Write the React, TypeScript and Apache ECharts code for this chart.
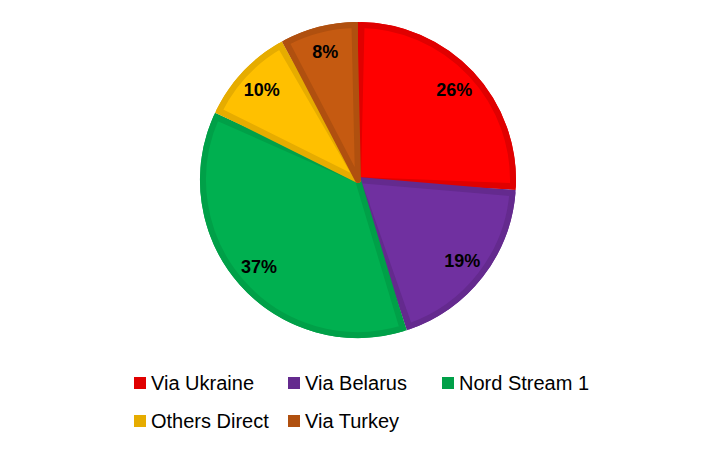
import React, { useEffect, useRef } from "react";
import * as echarts from "echarts";

const categories = ["Via Ukraine", "Via Belarus", "Nord Stream 1", "Others Direct", "Via Turkey"];
const values = [26, 19, 37, 10, 8];
const fillColors = ["#FF0000", "#7030A0", "#00B050", "#FFC000", "#C55A11"];
const borderColors = ["#E00000", "#642A8E", "#00A048", "#E6AC00", "#B0500F"];
const legendRow1 = ["Via Ukraine", "Via Belarus", "Nord Stream 1"];
const legendRow2 = ["Others Direct", "Via Turkey"];

export default function App() {
  const ref = useRef<HTMLDivElement>(null);
  useEffect(() => {
    if (!ref.current) return;
    const chart = echarts.init(ref.current, undefined, { renderer: "svg" });
    const colorOf = (n: string) => borderColors[categories.indexOf(n)];
    const mkLegend = (names: string[], top: number) => ({
      left: 134,
      top,
      orient: "horizontal",
      padding: 0,
      itemWidth: 12,
      itemHeight: 12,
      itemGap: 0,
      icon: "rect",
      data: names.map((n) => ({ name: n, itemStyle: { color: colorOf(n) } })),
      textStyle: {
        fontFamily: "Liberation Sans",
        fontSize: 20,
        color: "#000",
        width: 137,
        lineHeight: 20,
      },
    });
    const dark = categories.map((n, i) => ({ name: n, value: values[i], itemStyle: { color: borderColors[i] } }));
    const light = categories.map((n, i) => ({
      name: n,
      value: values[i],
      itemStyle: { color: fillColors[i], borderColor: borderColors[i], borderWidth: 6 },
    }));
    const labelData = categories.map((n, i) => ({ name: n, value: values[i] }));
    chart.setOption({
      animation: false,
      backgroundColor: "#fff",
      legend: [mkLegend(legendRow1, 373), mkLegend(legendRow2, 411)],
      series: [
        {
          type: "pie",
          center: [358, 180],
          radius: [0, 158],
          startAngle: 90,
          clockwise: true,
          silent: true,
          label: { show: false },
          labelLine: { show: false },
          data: dark,
        },
        {
          type: "pie",
          center: [358, 180],
          radius: [0, 155],
          startAngle: 90,
          clockwise: true,
          padAngle: 2.6,
          label: { show: false },
          labelLine: { show: false },
          emphasis: { disabled: true },
          data: light,
        },
        {
          type: "pie",
          center: [358, 180],
          radius: [100, 158],
          startAngle: 90,
          clockwise: true,
          silent: true,
          itemStyle: { color: "rgba(0,0,0,0)" },
          label: {
            show: true,
            position: "inside",
            formatter: "{c}%",
            fontFamily: "Liberation Sans",
            fontWeight: "bold",
            fontSize: 18,
            color: "#000",
          },
          labelLine: { show: false },
          data: labelData,
        },
      ],
    });
    return () => chart.dispose();
  }, []);
  return (
    <div
      ref={ref}
      style={{ position: "fixed", left: 0, top: 0, width: 714, height: 449 }}
    />
  );
}
